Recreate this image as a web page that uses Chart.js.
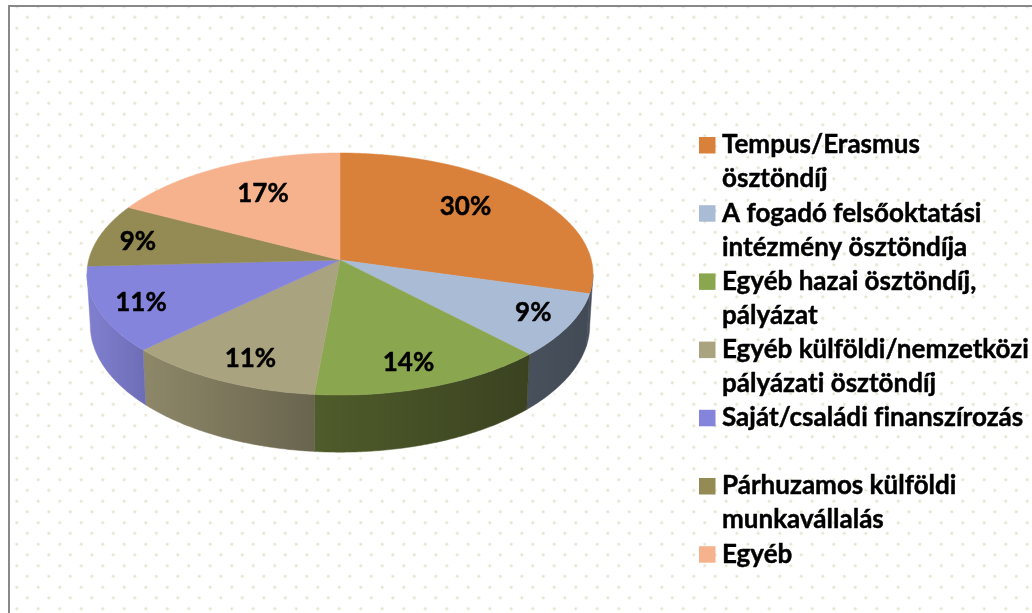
<!DOCTYPE html>
<html lang="hu">
<head>
<meta charset="utf-8">
<style>
html,body{margin:0;padding:0;background:#fff;width:1032px;height:613px;overflow:hidden}
#frame{position:absolute;left:8px;top:5px;width:1100px;height:700px;border:2px solid #888;box-sizing:border-box;
background-color:#fff;
background-image:radial-gradient(circle,#e0dcc2 0,#e9e6d2 1px,rgba(255,255,255,0) 2px),radial-gradient(circle,#e0dcc2 0,#e9e6d2 1px,rgba(255,255,255,0) 2px);
background-size:21.5px 21.5px;background-position:-4px -11px,6.55px -0.45px}
canvas{position:absolute;left:0;top:0}
</style>
<script src="https://cdn.jsdelivr.net/npm/chart.js@4"></script>
</head>
<body>
<div id="frame"></div>
<canvas id="c" width="1032" height="613"></canvas>
<script>
// Data
const categories = [
  ['Tempus/Erasmus','ösztöndíj'],
  ['A fogadó felsőoktatási','intézmény ösztöndíja'],
  ['Egyéb hazai ösztöndíj,','pályázat'],
  ['Egyéb külföldi/nemzetközi','pályázati ösztöndíj'],
  ['Saját/családi finanszírozás',''],
  ['Párhuzamos külföldi','munkavállalás'],
  ['Egyéb']
];
const shares = [29.5, 8.5, 13.6, 11.4, 11.4, 8.5, 17.4];
const percentLabels = ['30%','9%','14%','11%','11%','9%','17%'];

// Styles
const topColors = ['#D9813B','#A9BBD5','#8AA64F','#AAA37F','#8484DD','#948A54','#F6B28D'];
const wallLeft  = ['#48505C','#48505C','#505C2B','#8E8869','#8080D0','#6A6340','#B08060'];
const wallRight = ['#48505C','#424A55','#3A4220','#69644E','#6E6EB8','#6A6340','#B08060'];
const labelRadial = [0.72,0.84,0.82,0.82,0.83,0.84,0.68];
const labelShiftX = [-12,3,-6,8,0,0,6];
const labelShiftY = [-4,-2,1,2,2,3,-1];
const FONT = 'Lato, Carlito, sans-serif';
const TEXT_PX = 26;
const CX=340, CY=260, A=251.3, B=119.4, K=0.1158, DEPTH=50.5, BOTTOM_SCALE=0.987;

function project(theta, r, lower){
  const u=r*Math.sin(theta), v=-r*Math.cos(theta), w=1-K*v;
  const s=lower?BOTTOM_SCALE:1;
  return {x:CX+A*u/w*s, y:CY+B*v/w+(lower?DEPTH/w:0)};
}
const toTheta=a=>a+Math.PI/2;
const STEP=Math.PI/360;
const VIS0=Math.PI/2+Math.asin(K), VIS1=3*Math.PI/2-Math.asin(K);

function rim(ctx,t0,t1,lower,r){
  const n=Math.max(2,Math.ceil(Math.abs(t1-t0)/STEP));
  for(let i=0;i<=n;i++){
    const p=project(t0+(t1-t0)*i/n,r===undefined?1:r,lower);
    ctx.lineTo(p.x,p.y);
  }
}
function boldText(ctx,t,x,y){
  ctx.lineWidth=0.45;ctx.lineJoin='round';ctx.strokeStyle='#000';
  ctx.strokeText(t,x,y);ctx.fillText(t,x,y);
}

const pie3d={
  id:'pie3d',
  beforeDatasetDraw(chart,args){
    const ctx=chart.ctx, arcs=args.meta.data;
    ctx.save();
    ctx.save();
    ctx.shadowColor='rgba(255,255,255,1)';ctx.shadowBlur=14;ctx.fillStyle='#fff';
    ctx.beginPath();rim(ctx,0,Math.PI*2,false);ctx.closePath();ctx.fill();
    ctx.beginPath();rim(ctx,VIS0,VIS1,false);rim(ctx,VIS1,VIS0,true);ctx.closePath();
    ctx.fill();ctx.fill();
    ctx.restore();
    arcs.forEach((arc,i)=>{
      const t0=Math.max(toTheta(arc.startAngle),VIS0), t1=Math.min(toTheta(arc.endAngle),VIS1);
      if(t1<=t0) return;
      const a=project(t0,1,false), b=project(t1,1,false);
      const g=ctx.createLinearGradient(Math.min(a.x,b.x),0,Math.max(a.x,b.x),0);
      g.addColorStop(0,wallLeft[i]);g.addColorStop(1,wallRight[i]);
      ctx.fillStyle=g;ctx.strokeStyle=g;ctx.lineWidth=0.5;
      ctx.beginPath();rim(ctx,t0,t1,false);rim(ctx,t1,t0,true);ctx.closePath();
      ctx.fill();ctx.stroke();
    });
    arcs.forEach((arc,i)=>{
      ctx.fillStyle=topColors[i];ctx.strokeStyle=topColors[i];ctx.lineWidth=0.5;
      ctx.beginPath();ctx.moveTo(CX,CY);
      rim(ctx,toTheta(arc.startAngle),toTheta(arc.endAngle),false);
      ctx.closePath();ctx.fill();ctx.stroke();
    });
    ctx.fillStyle='#000';ctx.font='bold '+TEXT_PX+'px '+FONT;ctx.textAlign='center';ctx.textBaseline='middle';
    arcs.forEach((arc,i)=>{
      const p=project(toTheta((arc.startAngle+arc.endAngle)/2),labelRadial[i],false);
      boldText(ctx,percentLabels[i],p.x+labelShiftX[i],p.y+labelShiftY[i]);
    });
    ctx.restore();
    return false;
  },
  afterDraw(chart){
    const ctx=chart.ctx;
    ctx.save();
    ctx.font='bold '+TEXT_PX+'px '+FONT;ctx.textAlign='left';ctx.textBaseline='middle';
    if('letterSpacing' in ctx) ctx.letterSpacing='0.01px';
    let row=0;
    categories.forEach((lines,i)=>{
      const y0=145+row*34.1;
      ctx.fillStyle=topColors[i];
      ctx.fillRect(699,y0-8,16.5,16.5);
      ctx.fillStyle='#000';
      lines.forEach((t,j)=>{ if(t) boldText(ctx,t,722,y0+j*34.1); });
      row+=lines.length;
    });
    ctx.restore();
  }
};

new Chart(document.getElementById('c'),{
  type:'pie',
  data:{labels:categories.map(l=>l.filter(Boolean).join(' ')),datasets:[{data:shares,backgroundColor:topColors,borderWidth:0}]},
  options:{responsive:false,animation:false,events:[],plugins:{legend:{display:false},tooltip:{enabled:false}}},
  plugins:[pie3d]
});
</script>
</body>
</html>
